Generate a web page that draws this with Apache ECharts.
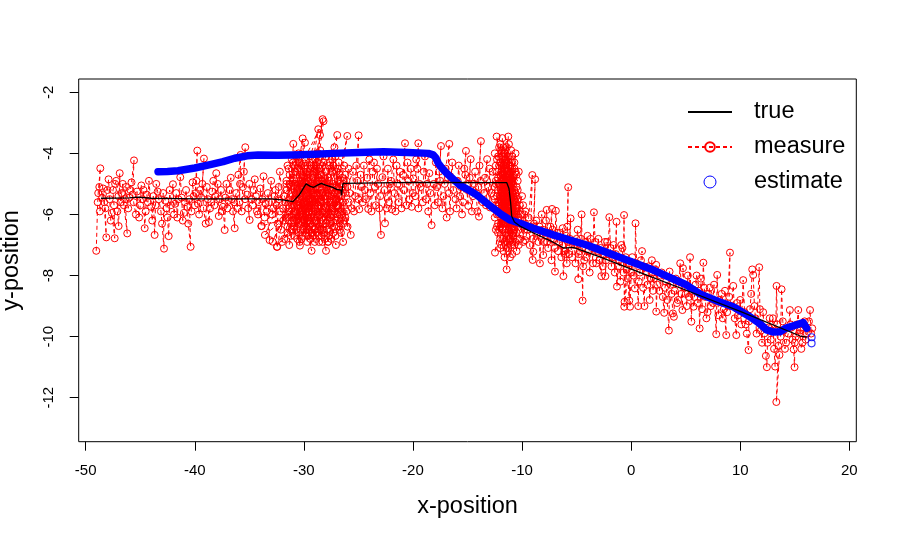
<!DOCTYPE html>
<html>
<head>
<meta charset="utf-8">
<script src="https://cdn.jsdelivr.net/npm/echarts@6/dist/echarts.min.js"></script>
<style>
  html, body { margin: 0; padding: 0; background: #fff; }
  #view { width: 897px; height: 540px; }
</style>
</head>
<body>
<div id="view"></div>
<script>
var xTicks = [-50, -40, -30, -20, -10, 0, 10, 20];
var yTicks = [-12, -10, -8, -6, -4, -2];

// true track
var truePath = [
  [-48.6, -5.47], [-46, -5.46], [-45.2, -5.43], [-44, -5.47], [-40, -5.49], [-36, -5.49],
  [-33, -5.49], [-31.8, -5.53], [-31, -5.58], [-30.4, -5.35], [-29.8, -5.0], [-29.4, -5.08],
  [-29.1, -5.11], [-28.7, -5.03], [-28.4, -4.98], [-28.0, -5.04], [-27.7, -5.07], [-27.3, -5.12],
  [-27.0, -5.18], [-26.6, -5.2], [-26.55, -5.38], [-26.45, -5.1], [-26.4, -4.98], [-20, -4.95],
  [-11.4, -4.96], [-11.2, -5.15], [-11.05, -5.6], [-10.95, -6.05], [-10.7, -6.25], [-10.2, -6.38],
  [-9, -6.6], [-7.2, -6.9], [-6.2, -7.1], [-5.3, -7.08], [-2.8, -7.4], [0.9, -7.91],
  [5.1, -8.49], [10, -9.17], [15.5, -9.98], [16.1, -10.02]
];

// measurements, in time order
var measureLeft = [
  [-49.03, -7.19], [-48.9, -5.6], [-48.85, -5.3], [-48.66, -4.49], [-48.75, -5.1], [-48.7, -5.9],
  [-48.5, -5.45], [-48.4, -5.15], [-48.11, -6.75], [-48.2, -5.8], [-48.3, -5.6], [-48.0, -5.2],
  [-47.9, -4.85], [-47.8, -5.5], [-47.7, -6.2], [-47.6, -5.95], [-47.34, -6.78], [-47.4, -5.7],
  [-47.5, -5.2], [-47.3, -5.0], [-47.2, -4.9], [-47.0, -5.4], [-47.1, -5.9], [-46.98, -6.38],
  [-46.88, -4.65], [-46.8, -5.6], [-46.7, -5.3], [-46.6, -5.0], [-46.5, -5.7], [-46.19, -6.62],
  [-46.4, -5.5], [-46.3, -5.1], [-46.1, -5.8], [-46.0, -5.45], [-45.9, -5.2], [-45.8, -4.95],
  [-45.57, -4.23], [-45.7, -5.35], [-45.6, -5.6], [-45.4, -6.0], [-45.3, -5.25], [-45.1, -6.1],
  [-45.0, -5.7], [-44.9, -5.05], [-44.8, -5.5], [-44.7, -5.2], [-44.59, -6.45], [-44.5, -5.9],
  [-44.4, -5.35], [-44.3, -5.6], [-44.2, -4.9], [-44.0, -5.75], [-43.9, -6.2], [-43.8, -5.4],
  [-43.68, -6.67], [-43.6, -5.7], [-43.53, -5.0], [-43.4, -5.25], [-43.3, -5.5], [-43.1, -5.9],
  [-43.0, -6.3], [-42.82, -7.12], [-42.9, -5.3], [-42.7, -5.55], [-42.6, -5.8], [-42.5, -6.1],
  [-42.39, -6.71], [-42.3, -5.2], [-42.2, -5.7], [-42.0, -5.01], [-41.9, -6.0], [-41.8, -5.65],
  [-41.7, -5.3], [-41.6, -6.1], [-41.5, -5.5], [-41.33, -4.78], [-41.2, -5.45], [-41.1, -6.2],
  [-41.0, -5.95], [-40.9, -5.6], [-40.8, -5.2], [-40.7, -5.75], [-40.6, -6.3], [-40.38, -7.06],
  [-40.5, -5.5], [-40.3, -5.9], [-40.2, -4.95], [-40.1, -5.4], [-40.0, -5.7], [-39.77, -3.91],
  [-39.85, -4.9], [-39.9, -5.3], [-39.7, -5.65], [-39.6, -6.0], [-39.5, -5.2], [-39.4, -5.45],
  [-39.16, -4.17], [-39.3, -5.0], [-39.2, -5.8], [-39.0, -6.3], [-38.9, -5.1], [-38.8, -5.5],
  [-38.7, -6.25], [-38.6, -5.8], [-38.5, -5.6], [-38.4, -5.25], [-38.3, -4.9], [-38.03, -4.65],
  [-38.2, -5.7], [-38.1, -5.4], [-37.9, -5.0], [-37.8, -6.05], [-37.7, -5.5], [-37.6, -5.2],
  [-37.5, -5.9], [-37.4, -5.75], [-37.26, -6.51], [-37.2, -5.45], [-37.1, -5.0], [-37.0, -5.8],
  [-36.9, -5.55], [-36.8, -5.2], [-36.7, -4.8], [-36.6, -5.5], [-36.5, -5.9], [-36.34, -6.45],
  [-36.4, -5.6], [-36.2, -5.3], [-36.1, -5.8], [-36.0, -4.7], [-35.8, -4.05], [-35.85, -5.0],
  [-35.9, -5.6], [-35.7, -5.9], [-35.6, -5.1], [-35.37, -3.8], [-35.5, -4.6], [-35.4, -5.5],
  [-35.2, -5.35], [-34.97, -6.18], [-35.1, -5.8], [-35.0, -5.0], [-34.8, -5.5], [-34.7, -5.7],
  [-34.6, -5.2], [-34.5, -4.85], [-34.4, -5.4], [-34.3, -5.9], [-34.2, -6.0], [-34.1, -5.6],
  [-33.9, -6.38], [-34.0, -5.15], [-33.8, -5.5], [-33.7, -4.75], [-33.6, -6.1], [-33.5, -5.65],
  [-33.4, -5.9], [-33.14, -6.84], [-33.3, -5.3], [-33.2, -5.6], [-33.0, -4.9], [-32.9, -6.0],
  [-32.8, -5.8], [-32.7, -5.4], [-32.47, -7.06], [-32.6, -5.2], [-32.5, -5.7], [-32.4, -6.3],
  [-32.3, -5.1], [-32.2, -4.6]
];

var measureStop1 = [
  [-31.9, -5.8], [-30.8, -4.6], [-32.1, -6.5], [-31.2, -5.1], [-30.4, -6.9], [-31.6, -4.9],
  [-30.0, -5.6], [-32.44, -7.06], [-31.0, -4.3], [-30.6, -6.2], [-31.8, -5.4], [-29.7, -4.8],
  [-31.34, -7.0], [-30.97, -3.69], [-30.2, -5.9], [-31.5, -6.6], [-29.9, -4.4], [-32.86, -6.89],
  [-30.7, -5.3], [-29.5, -6.4], [-31.1, -5.7], [-30.11, -3.51], [-29.8, -6.0], [-31.4, -4.5],
  [-30.36, -7.02], [-29.3, -5.2], [-30.9, -6.7], [-30.3, -4.9], [-31.7, -6.1], [-29.6, -5.5],
  [-33.57, -6.67], [-30.5, -4.2], [-29.2, -6.6], [-31.3, -5.0], [-30.0, -6.4], [-29.4, -4.5],
  [-32.3, -5.5], [-29.9, -3.65], [-30.8, -5.9], [-29.0, -6.9], [-31.0, -4.8], [-29.29, -7.19],
  [-30.1, -5.2], [-28.7, -4.6], [-30.6, -6.8], [-29.5, -5.9], [-33.87, -6.38], [-30.4, -5.0],
  [-28.9, -6.2], [-31.2, -6.3], [-28.68, -3.21], [-29.7, -5.4], [-30.2, -4.4], [-28.5, -6.5],
  [-29.9, -6.1], [-28.28, -2.88], [-29.1, -5.0], [-30.7, -4.7], [-28.2, -2.95], [-29.4, -6.3],
  [-28.52, -3.4], [-29.0, -5.7], [-27.97, -7.19], [-28.8, -4.3], [-29.6, -6.7], [-28.3, -5.3],
  [-30.3, -5.8], [-28.6, -6.9], [-29.2, -4.2], [-27.8, -5.6], [-28.9, -5.1], [-27.76, -6.89],
  [-28.4, -4.7], [-29.8, -5.3], [-27.5, -6.3], [-28.7, -5.9], [-28.0, -4.1], [-29.3, -6.0],
  [-27.3, -5.0], [-28.1, -6.6], [-28.8, -4.9], [-27.06, -7.0], [-27.9, -5.4], [-28.5, -3.9],
  [-27.6, -6.1], [-29.0, -5.4], [-26.94, -3.4], [-27.4, -4.6], [-28.2, -6.2], [-26.9, -5.7],
  [-27.7, -4.4], [-28.6, -6.4], [-26.7, -6.5], [-27.2, -5.3], [-28.0, -5.8], [-26.5, -4.8],
  [-27.5, -6.8], [-26.02, -3.43], [-27.0, -5.1], [-26.3, -6.2], [-27.8, -4.8], [-26.6, -5.6],
  [-25.7, -6.67], [-26.8, -4.3], [-27.3, -6.6], [-26.2, -5.3], [-25.9, -4.5], [-26.9, -6.0],
  [-27.1, -4.1], [-26.4, -6.9], [-27.6, -5.2], [-26.1, -5.9], [-27.9, -6.5], [-26.7, -4.7],
  [-28.4, -5.5], [-27.2, -3.8], [-28.8, -6.6], [-27.4, -5.8], [-29.1, -4.6], [-28.3, -6.9],
  [-29.5, -5.6], [-28.6, -4.5], [-30.0, -6.5], [-29.3, -5.8], [-30.5, -4.0], [-29.0, -6.2],
  [-30.8, -5.5], [-29.7, -6.9], [-30.2, -4.7], [-31.4, -5.8], [-29.8, -5.0], [-30.9, -6.4],
  [-28.9, -5.6], [-31.6, -5.2], [-29.4, -6.8], [-30.4, -5.5], [-28.7, -4.0], [-29.6, -6.2],
  [-31.0, -6.0], [-28.4, -5.2], [-30.1, -6.7], [-29.2, -4.8], [-31.8, -6.8], [-28.1, -5.0],
  [-30.6, -5.7], [-27.9, -6.0], [-29.9, -4.2], [-28.5, -6.0], [-30.3, -6.2], [-27.6, -4.5],
  [-29.0, -6.5], [-28.2, -4.3], [-31.1, -6.5], [-27.3, -5.6], [-29.5, -5.1], [-26.8, -6.4],
  [-28.0, -5.5], [-30.7, -5.0], [-27.0, -6.2], [-28.6, -5.3], [-26.5, -5.2], [-29.7, -5.8],
  [-27.7, -6.7], [-26.3, -4.4], [-28.9, -4.4], [-27.1, -5.5], [-29.3, -6.6], [-26.6, -6.0],
  [-28.3, -4.9], [-27.5, -5.4], [-26.9, -4.9], [-28.0, -6.3], [-27.4, -4.2], [-26.4, -5.6],
  [-26.0, -6.4], [-26.7, -5.0], [-25.6, -5.8], [-26.2, -4.7], [-25.8, -5.3]
];

var measureStop1b = [
  [-31.5, -4.4], [-29.6, -6.5], [-30.9, -5.0], [-28.4, -6.7], [-30.2, -5.4], [-31.9, -6.2],
  [-29.1, -4.4], [-30.5, -6.6], [-28.8, -5.5], [-31.3, -4.7], [-29.8, -6.6], [-30.7, -4.1],
  [-28.1, -5.9], [-31.7, -5.6], [-29.4, -5.2], [-30.0, -4.6], [-32.0, -6.9], [-28.6, -4.8],
  [-30.8, -6.1], [-29.2, -5.5], [-31.2, -6.7], [-28.3, -4.4], [-30.4, -5.8], [-29.5, -4.3],
  [-31.5, -6.4], [-27.9, -5.2], [-30.1, -6.0], [-28.9, -6.8], [-29.7, -4.6], [-31.0, -5.5],
  [-28.5, -4.1], [-30.6, -4.5], [-29.3, -6.1], [-32.2, -5.9], [-28.2, -6.5], [-30.3, -5.1],
  [-29.0, -4.5], [-31.4, -6.2], [-28.7, -5.7], [-30.9, -4.4], [-27.8, -6.2], [-29.9, -5.7],
  [-31.1, -4.2], [-28.4, -5.0], [-30.5, -6.3], [-29.6, -4.9], [-27.6, -5.8], [-30.2, -6.8],
  [-28.8, -4.0], [-31.6, -5.0], [-29.2, -6.4], [-27.4, -5.1], [-30.0, -5.1], [-28.1, -6.8],
  [-29.8, -4.5], [-31.3, -5.9], [-27.2, -6.4], [-28.6, -5.0], [-30.7, -6.5], [-29.4, -4.1],
  [-27.0, -5.7], [-28.9, -5.9], [-30.4, -4.3], [-27.7, -4.9], [-29.1, -6.7], [-26.8, -5.4],
  [-28.3, -6.1], [-29.7, -5.1], [-27.3, -4.4], [-26.6, -6.6], [-28.0, -4.6], [-27.5, -6.0],
  [-26.4, -5.0], [-27.8, -6.9], [-26.9, -4.5], [-28.5, -5.6], [-27.1, -6.7], [-26.2, -6.1],
  [-27.6, -4.3], [-26.5, -5.9], [-27.9, -5.1], [-26.7, -6.3], [-26.1, -4.9], [-27.2, -5.9],
  [-25.9, -5.6], [-26.4, -6.3], [-27.0, -4.6], [-26.0, -5.1]
];

var measureMid = [
  [-25.5, -4.6], [-25.4, -5.9], [-25.3, -5.4], [-25.2, -4.4], [-24.98, -3.41], [-25.1, -4.9],
  [-25.0, -5.5], [-24.92, -5.83], [-24.8, -4.7], [-24.7, -5.1], [-24.6, -5.6], [-24.5, -4.4],
  [-24.4, -5.2], [-24.3, -5.5], [-24.1, -5.82], [-24.2, -4.8], [-24.0, -4.2], [-23.9, -5.3],
  [-23.8, -5.9], [-23.7, -4.6], [-23.57, -4.3], [-23.5, -5.1], [-23.4, -5.7], [-23.3, -4.5],
  [-23.2, -5.0], [-22.93, -6.67], [-23.1, -5.8], [-23.0, -5.4], [-22.8, -4.78], [-22.7, -4.1],
  [-22.56, -6.29], [-22.6, -5.2], [-22.4, -5.8], [-22.3, -4.5], [-22.2, -5.6], [-22.1, -5.0],
  [-21.95, -5.83], [-22.0, -4.9], [-21.8, -4.2], [-21.7, -5.3], [-21.6, -5.9], [-21.5, -4.4],
  [-21.4, -5.0], [-21.3, -5.6], [-21.2, -4.6], [-21.04, -5.8], [-20.9, -4.7], [-20.73, -3.67],
  [-20.8, -5.2], [-20.6, -5.7], [-20.5, -4.3], [-20.4, -4.9], [-20.3, -5.5], [-20.12, -5.75],
  [-20.2, -4.5], [-19.97, -4.82], [-20.0, -5.3], [-19.8, -5.4], [-19.7, -4.2], [-19.6, -4.5],
  [-19.51, -3.67], [-19.5, -5.8], [-19.4, -5.0], [-19.3, -5.1], [-19.1, -5.6], [-19.0, -4.6],
  [-18.9, -4.1], [-18.8, -5.5], [-18.7, -5.0], [-18.5, -4.65], [-18.6, -5.9], [-18.29, -6.35],
  [-18.4, -5.3], [-18.1, -5.0], [-18.0, -5.7], [-17.9, -4.3], [-17.8, -5.1], [-17.7, -5.6],
  [-17.43, -3.76], [-17.6, -4.6], [-17.5, -4.9], [-17.3, -5.8], [-17.2, -5.4], [-16.91, -6.1],
  [-17.1, -5.0], [-17.0, -4.5], [-16.67, -3.69], [-16.8, -4.8], [-16.7, -5.3], [-16.6, -5.9],
  [-16.5, -4.8], [-16.4, -4.3], [-16.3, -5.2], [-16.1, -5.5], [-16.0, -5.8], [-15.9, -4.9],
  [-15.8, -4.4], [-15.7, -5.4], [-15.6, -5.1], [-15.5, -6.0], [-15.4, -5.6], [-15.14, -3.92],
  [-15.3, -4.5], [-15.2, -4.7], [-14.93, -5.72], [-15.0, -5.2], [-14.9, -5.0], [-14.71, -4.19],
  [-14.8, -4.8], [-14.6, -5.9], [-14.5, -5.4], [-14.4, -5.0], [-14.3, -4.6], [-14.2, -5.3],
  [-14.1, -5.9], [-13.95, -6.07], [-14.0, -5.1], [-13.77, -3.6], [-13.9, -4.4], [-13.8, -4.9],
  [-13.6, -5.6], [-13.5, -5.3], [-13.4, -4.8], [-13.2, -4.19], [-13.3, -5.7], [-13.1, -5.1],
  [-12.94, -5.77], [-13.0, -4.5], [-12.8, -5.3]
];

var measureStop2 = [
  [-12.5, -5.1], [-11.6, -4.3], [-12.1, -6.0], [-11.2, -4.9], [-12.7, -4.6], [-11.8, -5.7],
  [-10.9, -4.1], [-12.3, -5.4], [-11.4, -6.3], [-12.33, -3.45], [-11.0, -5.5], [-12.0, -4.7],
  [-11.5, -3.9], [-10.7, -5.9], [-12.4, -6.5], [-11.3, -5.0], [-11.9, -4.0], [-10.8, -6.6],
  [-12.2, -5.6], [-11.26, -3.45], [-11.7, -6.2], [-10.6, -4.6], [-12.6, -5.8], [-11.1, -4.4],
  [-11.8, -3.5], [-12.0, -6.78], [-10.9, -5.3], [-12.3, -4.2], [-11.5, -5.8], [-10.5, -5.1],
  [-11.9, -7.0], [-11.2, -6.0], [-12.5, -4.0], [-10.8, -4.8], [-11.6, -5.2], [-12.1, -3.8],
  [-10.6, -6.3], [-11.4, -4.6], [-12.48, -7.25], [-11.0, -3.9], [-11.7, -4.8], [-10.4, -5.5],
  [-12.2, -6.3], [-11.3, -5.5], [-10.7, -4.3], [-11.9, -5.3], [-11.1, -6.8], [-12.4, -5.0],
  [-10.9, -6.0], [-11.5, -4.2], [-12.0, -5.9], [-10.5, -4.7], [-11.8, -6.5], [-11.2, -3.7],
  [-12.6, -5.4], [-10.8, -5.6], [-11.41, -7.8], [-11.6, -4.5], [-10.3, -6.1], [-12.1, -4.4],
  [-11.0, -5.0], [-11.7, -7.2], [-10.6, -5.3], [-12.3, -6.0], [-11.3, -4.1], [-10.9, -6.4],
  [-11.1, -7.4], [-11.8, -4.1], [-10.4, -4.9], [-12.2, -5.2], [-11.4, -5.9], [-10.7, -7.0],
  [-11.9, -4.6], [-11.0, -6.2], [-12.0, -3.7], [-10.5, -6.6], [-11.5, -5.4], [-12.4, -4.4],
  [-10.8, -5.0], [-11.2, -6.5], [-11.7, -3.8], [-10.2, -5.7], [-11.6, -6.9], [-12.1, -5.7],
  [-10.6, -4.0], [-11.3, -6.7], [-10.9, -4.5], [-12.0, -6.4], [-11.1, -5.7], [-10.4, -6.3]
];

var measureStop2b = [
  [-11.5, -5.0], [-12.2, -4.8], [-10.8, -6.3], [-11.9, -6.3], [-11.1, -4.2], [-12.4, -5.7],
  [-10.6, -6.9], [-11.7, -4.4], [-11.3, -7.1], [-12.1, -5.0], [-10.9, -4.9], [-11.6, -6.1],
  [-12.3, -4.6], [-10.7, -5.5], [-11.4, -3.8], [-12.0, -7.1], [-11.0, -5.9], [-11.8, -4.7],
  [-10.5, -6.0], [-12.5, -5.5], [-11.2, -5.3], [-11.9, -3.9], [-10.8, -6.7], [-12.2, -5.9],
  [-11.5, -6.6], [-10.9, -4.3], [-11.7, -5.9], [-12.4, -4.9], [-11.0, -7.0], [-10.4, -5.2],
  [-11.6, -4.0], [-12.1, -6.5], [-11.3, -5.8], [-10.7, -4.5], [-11.9, -5.6], [-11.1, -6.3],
  [-12.3, -6.4], [-10.6, -5.6], [-11.4, -5.1], [-12.0, -4.3], [-10.9, -7.3], [-11.8, -6.8],
  [-11.2, -4.4], [-10.5, -5.9], [-12.2, -4.1], [-11.6, -7.4], [-10.8, -5.4], [-11.3, -4.8],
  [-12.0, -5.4], [-10.3, -6.5], [-11.5, -6.3], [-11.0, -4.8], [-10.6, -6.2], [-11.7, -5.1],
  [-11.8, -5.0], [-12.5, -6.1], [-10.7, -5.2], [-11.4, -4.3], [-10.1, -6.0], [-11.9, -6.0],
  [-11.0, -4.6], [-10.5, -7.2], [-11.6, -5.6], [-10.3, -4.6], [-12.2, -6.6], [-10.8, -6.1],
  [-11.2, -4.7], [-9.9, -6.4], [-11.5, -7.0], [-10.6, -5.8], [-11.7, -5.4], [-10.2, -6.8],
  [-11.0, -6.5], [-9.73, -6.84], [-10.9, -5.6], [-11.3, -6.2], [-10.4, -5.8], [-10.0, -5.4],
  [-10.7, -6.5], [-9.8, -6.0], [-10.3, -7.0], [-10.9, -6.9], [-10.2, -6.3], [-11.2, -6.8],
  [-10.5, -5.4], [-10.9, -6.2], [-9.9, -5.7]
];

var measureRight = [
  [-9.9, -6.9], [-9.8, -6.3], [-9.7, -5.9], [-9.6, -6.7], [-9.5, -6.5], [-9.4, -6.1],
  [-9.06, -4.71], [-9.2, -6.4], [-9.3, -7.0], [-9.03, -7.49], [-9.0, -6.8], [-8.8, -4.85],
  [-8.9, -6.3], [-8.97, -7.22], [-8.7, -6.2], [-8.6, -6.6], [-8.5, -6.9], [-8.4, -6.4],
  [-8.36, -7.6], [-8.3, -6.7], [-8.2, -6.0], [-8.1, -6.5], [-8.06, -7.33], [-8.0, -6.9],
  [-7.9, -6.6], [-7.8, -6.2], [-7.74, -5.85], [-7.7, -6.9], [-7.6, -7.1], [-7.5, -6.6],
  [-7.4, -6.4], [-7.25, -5.82], [-7.35, -6.8], [-7.3, -7.5], [-7.2, -6.5], [-7.1, -6.8],
  [-6.98, -7.87], [-7.0, -7.1], [-6.9, -5.88], [-6.8, -6.6], [-6.7, -7.2], [-6.6, -6.9],
  [-6.5, -6.6], [-6.4, -7.4], [-6.28, -6.45], [-6.3, -7.0], [-6.21, -8.02], [-6.1, -7.2],
  [-6.0, -7.3], [-5.95, -6.7], [-5.9, -7.6], [-5.77, -5.11], [-5.85, -6.4], [-5.8, -6.9],
  [-5.7, -7.3], [-5.55, -6.13], [-5.6, -6.8], [-5.4, -7.4], [-5.3, -6.9], [-5.2, -7.0],
  [-5.1, -7.6], [-5.0, -6.8], [-4.9, -6.5], [-4.85, -8.12], [-4.8, -7.3], [-4.7, -7.2],
  [-4.6, -6.8], [-4.54, -6.0], [-4.5, -7.1], [-4.45, -8.82], [-4.4, -7.7], [-4.3, -7.5],
  [-4.2, -6.9], [-4.0, -6.7], [-4.1, -7.4], [-3.9, -7.2], [-3.8, -7.9], [-3.7, -6.8],
  [-3.6, -7.1], [-3.5, -7.6], [-3.41, -5.93], [-3.3, -6.9], [-3.2, -7.6], [-3.1, -7.2],
  [-3.0, -6.8], [-2.9, -7.5], [-2.73, -8.02], [-2.8, -7.1], [-2.6, -7.7], [-2.5, -7.3],
  [-2.4, -6.9], [-2.36, -8.02], [-2.3, -7.5], [-2.2, -6.9], [-2.1, -7.3], [-2.0, -6.09],
  [-1.9, -7.1], [-1.8, -7.7], [-1.7, -7.4], [-1.6, -7.0], [-1.5, -7.9], [-1.34, -6.24],
  [-1.4, -7.3], [-1.3, -8.36], [-1.2, -7.7], [-1.1, -7.5], [-0.99, -8.2], [-0.9, -7.0],
  [-0.8, -7.1], [-0.7, -7.9], [-0.65, -6.02], [-0.63, -9.02], [-0.5, -7.4], [-0.4, -7.8],
  [-0.6, -8.86], [-0.3, -8.1], [-0.17, -8.82], [-0.2, -7.6], [-0.1, -9.02], [0.0, -7.9],
  [0.1, -7.4], [0.2, -8.0], [0.34, -8.42], [0.4, -6.29], [0.5, -7.6], [0.65, -9.0],
  [0.7, -8.2], [0.8, -7.9], [0.9, -7.5], [1.0, -7.2], [1.1, -8.4], [1.22, -9.0],
  [1.24, -7.71], [1.4, -7.9], [1.5, -8.3], [1.6, -7.7], [1.7, -8.8], [1.8, -8.1],
  [1.9, -7.5], [2.0, -8.5], [2.1, -8.1], [2.2, -7.8], [2.3, -7.65], [2.3, -9.18],
  [2.4, -8.3], [2.6, -8.5], [2.7, -8.0], [2.8, -7.9], [2.9, -8.7], [3.03, -9.22],
  [3.1, -8.4], [3.2, -8.2], [3.3, -8.8], [3.46, -9.8], [3.52, -7.87], [3.6, -8.3],
  [3.7, -8.6], [3.83, -9.24], [3.92, -9.35], [4.0, -8.5], [4.1, -8.1], [4.2, -8.9],
  [4.3, -8.8], [4.4, -8.2], [4.5, -7.6], [4.6, -8.6], [4.7, -9.13], [4.75, -7.76],
  [4.9, -8.4], [5.0, -8.6], [5.1, -9.0], [5.2, -8.0], [5.3, -8.7], [5.4, -7.4],
  [5.52, -9.51], [5.6, -8.5], [5.73, -9.02], [5.8, -8.7], [5.9, -8.3], [6.0, -8.0],
  [6.1, -8.9], [6.2, -8.5], [6.28, -9.73], [6.4, -8.1], [6.5, -9.1], [6.62, -7.58],
  [6.7, -8.4], [6.8, -8.7], [6.9, -9.4], [7.0, -9.2], [7.1, -8.6], [7.2, -8.4],
  [7.3, -9.0], [7.5, -8.9], [7.6, -8.3], [7.8, -9.92], [7.89, -7.98], [8.0, -9.3],
  [8.1, -8.8], [8.3, -8.6], [8.4, -9.4], [8.5, -9.1], [8.72, -9.95], [8.6, -8.5],
  [8.8, -9.2], [9.06, -7.25], [9.0, -8.7], [9.2, -9.0], [9.36, -8.34], [9.5, -9.4],
  [9.64, -9.95], [9.7, -8.9], [9.8, -9.3], [10.0, -8.8], [10.1, -9.6], [10.27, -8.15],
  [10.4, -9.2], [10.5, -9.6], [10.6, -9.9], [10.76, -10.44], [10.8, -9.5], [10.9, -9.1],
  [11.0, -8.6], [11.1, -7.8], [11.19, -7.98], [11.3, -9.0], [11.4, -9.4], [11.5, -9.9],
  [11.74, -7.73], [11.8, -9.1], [11.9, -9.8], [12.0, -10.2], [12.1, -9.2], [12.2, -9.9],
  [12.35, -10.63], [12.44, -11.0], [12.5, -10.2], [12.6, -9.7], [12.7, -9.4], [12.8, -10.1],
  [12.9, -9.8], [13.0, -9.4], [13.1, -10.4], [13.2, -10.98], [13.33, -8.34], [13.4, -9.6],
  [13.5, -10.3], [13.31, -12.14], [13.6, -10.6], [13.7, -10.0], [13.79, -8.45], [13.9, -9.5],
  [14.0, -9.8], [14.1, -10.4], [14.2, -10.2], [14.4, -9.9], [14.55, -9.13], [14.6, -9.6],
  [14.7, -9.7], [14.8, -10.1], [14.9, -10.42], [14.98, -11.0], [15.0, -10.2], [15.1, -10.0],
  [15.2, -9.6], [15.32, -9.13], [15.4, -9.9], [15.5, -9.8], [15.6, -10.4], [15.7, -10.2],
  [15.8, -9.7], [15.9, -9.5], [16.0, -10.1], [16.1, -9.9], [16.3, -9.5], [16.4, -9.13],
  [16.5, -9.9], [16.6, -9.73]
];

// filter estimate
var estimatePath = [
  [-43.37, -4.60], [-42.5, -4.59], [-41.54, -4.57], [-40.0, -4.48], [-38.49, -4.36], [-37.4, -4.27],
  [-36.35, -4.16], [-35.2, -4.08], [-34.2, -4.05], [-32.4, -4.06], [-31.0, -4.05], [-29.0, -4.03],
  [-27.3, -4.0], [-25.0, -3.97], [-22.7, -3.95], [-20.5, -3.97], [-18.6, -4.0], [-18.14, -4.05],
  [-17.9, -4.15], [-17.68, -4.32], [-17.3, -4.5], [-16.91, -4.65], [-16.3, -4.85], [-15.7, -5.04],
  [-14.9, -5.2], [-14.16, -5.36], [-13.4, -5.58], [-12.64, -5.8], [-11.9, -6.0], [-11.1, -6.18],
  [-10.19, -6.29], [-8.97, -6.45], [-7.14, -6.67], [-5.61, -6.84], [-4.08, -7.0], [-2.86, -7.16],
  [-0.94, -7.42], [2.03, -7.82], [5.09, -8.31], [6.3, -8.6], [8.0, -8.85], [9.36, -9.02],
  [10.89, -9.35], [11.7, -9.55], [12.42, -9.78], [13.0, -9.85], [13.64, -9.84], [14.2, -9.72],
  [14.86, -9.65], [15.3, -9.6], [15.78, -9.54], [16.1, -9.73]
];
var estimateTail = [[16.54, -10.02], [16.54, -10.22]];

var FONT = 'Liberation Sans, Arial, Helvetica, sans-serif';
var myChart = echarts.init(document.getElementById('view'));
var option = {
    animation: false,
    backgroundColor: '#ffffff',
    textStyle: { fontFamily: FONT, color: '#000' },
    grid: {
        left: 78.7, right: 40.7, top: 79, bottom: 98.3,
        outerBoundsMode: 'none', containLabel: false,
        show: true, borderColor: '#000', borderWidth: 1, backgroundColor: 'transparent'
    },
    legend: {
        orient: 'vertical',
        left: 682, top: 95,
        itemWidth: 44, itemHeight: 12, itemGap: 11,
        selectedMode: false,
        textStyle: { fontSize: 23.5, color: '#000', fontFamily: FONT, padding: [0, 0, 0, 17] },
        data: [
            { name: 'true' },
            { name: 'measure' },
            { name: 'estimate', icon: 'circle',
              itemStyle: { color: 'rgba(0,0,0,0)', borderColor: '#0000ff', borderWidth: 1 } }
        ]
    },
    xAxis: {
        type: 'value', min: -50.64, max: 20.64,
        name: 'x-position', nameLocation: 'middle', nameGap: 53,
        nameTextStyle: { fontSize: 23.5, color: '#000', fontFamily: FONT },
        axisLine: { show: false, onZero: false },
        splitLine: { show: false },
        axisTick: { show: true, length: 9, customValues: xTicks, lineStyle: { color: '#000' } },
        axisLabel: { customValues: xTicks, fontSize: 15, color: '#000', margin: 22, fontFamily: FONT }
    },
    yAxis: {
        type: 'value', min: -13.44, max: -1.565,
        name: 'y-position', nameLocation: 'middle', nameGap: 55, nameRotate: 90,
        nameTextStyle: { fontSize: 23.5, color: '#000', fontFamily: FONT },
        axisLine: { show: false, onZero: false },
        splitLine: { show: false },
        axisTick: { show: true, length: 9, customValues: yTicks, lineStyle: { color: '#000' } },
        axisLabel: { customValues: yTicks, rotate: 90, fontSize: 15, color: '#000', margin: 22, fontFamily: FONT }
    },
    series: [{
        name: 'measure',
        type: 'line',
        data: measureLeft.concat(measureStop1, measureStop1b, measureMid, measureStop2, measureStop2b, measureRight),
        symbol: 'circle', symbolSize: 7, showAllSymbol: true,
        itemStyle: { color: 'rgba(0,0,0,0)', borderColor: '#ff0000', borderWidth: 1 },
        lineStyle: { color: '#ff0000', width: 1, type: [4, 3] },
        emphasis: { disabled: true },
        z: 2
    }, {
        name: 'estimate',
        type: 'line',
        data: estimatePath,
        symbol: 'none',
        lineStyle: { color: '#0000ff', width: 7.5, cap: 'round', join: 'round' },
        itemStyle: { color: '#0000ff' },
        emphasis: { disabled: true },
        z: 3
    }, {
        name: 'estimate',
        type: 'scatter',
        data: estimateTail,
        symbol: 'circle', symbolSize: 7,
        itemStyle: { color: 'rgba(0,0,0,0)', borderColor: '#0000ff', borderWidth: 1.2 },
        emphasis: { disabled: true },
        z: 3
    }, {
        name: 'true',
        type: 'line',
        data: truePath,
        symbol: 'none',
        lineStyle: { color: '#000000', width: 1.3 },
        itemStyle: { color: 'rgba(0,0,0,0)' },
        emphasis: { disabled: true },
        z: 4
    }]
};
myChart.setOption(option);
</script>
</body>
</html>
